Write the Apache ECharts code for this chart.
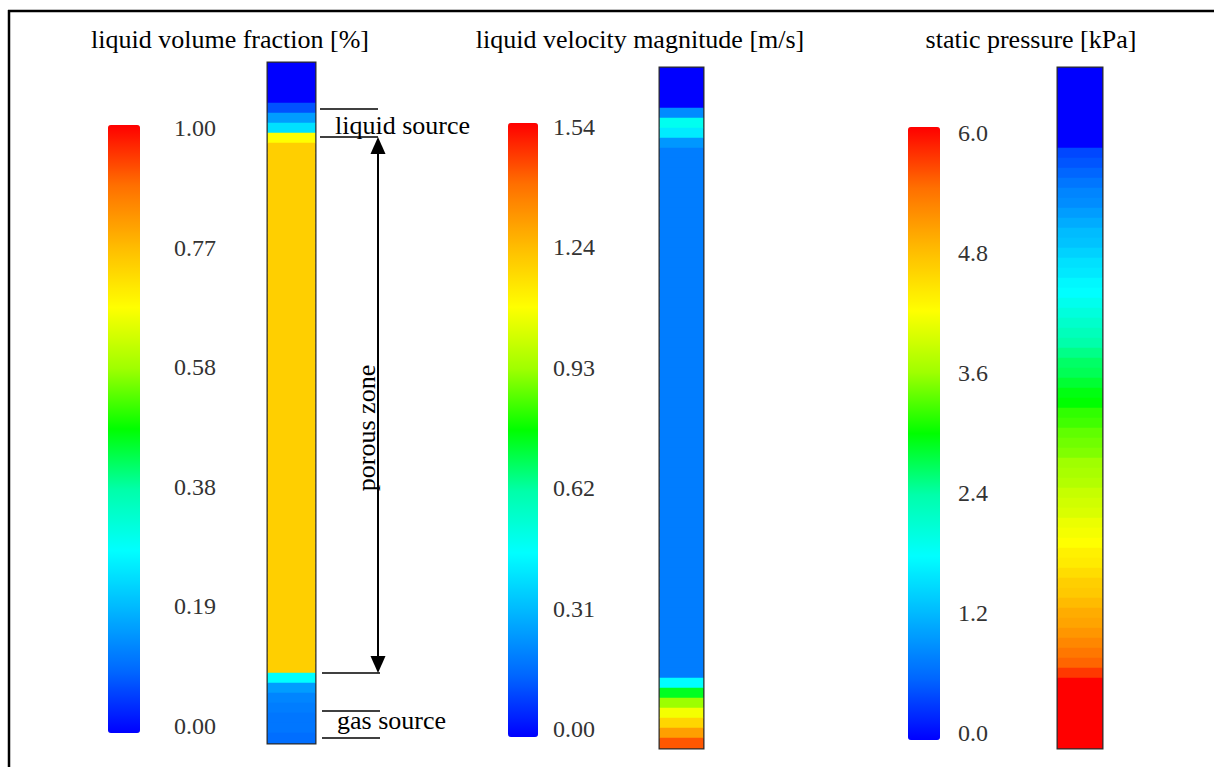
<!DOCTYPE html>
<html>
<head>
<meta charset="utf-8">
<title>liquid volume fraction / velocity / static pressure</title>
<script src="https://cdn.jsdelivr.net/npm/echarts@6/dist/echarts.min.js"></script>
<style>
  html, body { margin: 0; padding: 0; background: #fff; }
  #chart { width: 1214px; height: 767px; }
</style>
</head>
<body>
<div id="chart"></div>
<script>
// colorbar tick labels, bottom to top (as printed)
const fractionTicks = ['0.00', '0.19', '0.38', '0.58', '0.77', '1.00'];
const velocityTicks = ['0.00', '0.31', '0.62', '0.93', '1.24', '1.54'];
const pressureTicks = ['0.0', '1.2', '2.4', '3.6', '4.8', '6.0'];

// column profiles, top row first (68 rows each)
const fractionRows = [
  0, 0, 0, 0, 0.08, 0.17, 0.26, 0.70,
  0.77, 0.77, 0.77, 0.77, 0.77, 0.77, 0.77, 0.77, 0.77, 0.77,
  0.77, 0.77, 0.77, 0.77, 0.77, 0.77, 0.77, 0.77, 0.77, 0.77,
  0.77, 0.77, 0.77, 0.77, 0.77, 0.77, 0.77, 0.77, 0.77, 0.77,
  0.77, 0.77, 0.77, 0.77, 0.77, 0.77, 0.77, 0.77, 0.77, 0.77,
  0.77, 0.77, 0.77, 0.77, 0.77, 0.77, 0.77, 0.77, 0.77, 0.77,
  0.77, 0.77, 0.77,
  0.30, 0.17, 0.14, 0.13, 0.12, 0.12, 0.11
];
const velocityRows = [
  0, 0, 0, 0, 0.23, 0.49, 0.42, 0.25,
  0.20, 0.20, 0.20, 0.20, 0.20, 0.20, 0.20, 0.20, 0.20, 0.20,
  0.20, 0.20, 0.20, 0.20, 0.20, 0.20, 0.20, 0.20, 0.20, 0.20,
  0.20, 0.20, 0.20, 0.20, 0.20, 0.20, 0.20, 0.20, 0.20, 0.20,
  0.20, 0.20, 0.20, 0.20, 0.20, 0.20, 0.20, 0.20, 0.20, 0.20,
  0.20, 0.20, 0.20, 0.20, 0.20, 0.20, 0.20, 0.20, 0.20, 0.20,
  0.20, 0.20, 0.20,
  0.46, 0.74, 0.92, 1.06, 1.17, 1.29, 1.42
];
const pressureRows = [
  0, 0, 0, 0, 0, 0, 0, 0,
  0.42, 0.5, 0.6, 0.72, 0.84, 0.9, 1.02, 1.14, 1.26, 1.32,
  1.44, 1.56, 1.62, 1.74, 1.8, 1.92, 2.04, 2.16, 2.28, 2.4,
  2.52, 2.64, 2.7, 2.82, 2.94, 3.0, 3.18, 3.24, 3.36, 3.42,
  3.48, 3.6, 3.66, 3.72, 3.84, 3.9, 3.96, 4.08, 4.14, 4.2,
  4.32, 4.38, 4.5, 4.62, 4.68, 4.8, 4.92, 4.98, 5.1, 5.22,
  5.34, 5.46, 5.7,
  6.0, 6.0, 6.0, 6.0, 6.0, 6.0, 6.0
];

const rainbow = ['#0000ff', '#0066ff', '#00b4ff', '#00ffff', '#00ffaa', '#00ff00',
  '#a0ff00', '#ffff00', '#ffbb00', '#ff7000', '#ff0000'];
const serif = '"Liberation Serif", "Times New Roman", serif';

const chart = echarts.init(document.getElementById('chart'), null, { renderer: 'svg' });

// contour column: one category column, one row per cell (10px rows)
function colGrid(left, top, width, height) {
  return { left, top, width, height, show: true, borderColor: '#2b2b2b', borderWidth: 3 };
}
// grid only used to carry the colorbar tick labels
function tickGrid(left, top, height) {
  return { left, top, width: 15, height, show: false };
}
function colX(i) {
  return { gridIndex: i, type: 'category', data: ['c'], show: false };
}
function colY(i, rows) {
  return { gridIndex: i, type: 'category', inverse: true, data: rows.map((v, k) => k), show: false };
}
function tickX(i) {
  return { gridIndex: i, type: 'value', min: 0, max: 1, show: false };
}
function tickY(i, ticks) {
  return {
    gridIndex: i, type: 'value', position: 'right', min: 0, max: ticks.length - 1, interval: 1,
    axisLine: { show: false }, axisTick: { show: false }, splitLine: { show: false },
    axisLabel: {
      margin: 8, fontFamily: serif, fontSize: 24, color: '#333',
      formatter: (v) => ticks[v]
    }
  };
}
function heat(i, rows) {
  return {
    type: 'heatmap', xAxisIndex: i, yAxisIndex: i,
    data: rows.map((v, k) => [0, k, v]),
    itemStyle: { borderWidth: 0 },
    emphasis: { disabled: true }, silent: true
  };
}
function bar(idx, max, left, top, w, h) {
  return {
    type: 'continuous', seriesIndex: idx, min: 0, max: max, orient: 'vertical',
    left, top, itemWidth: w, itemHeight: h, padding: 0,
    calculable: false, hoverLink: false, inRange: { color: rainbow }
  };
}

const txt = (x, y, text, extra) => Object.assign({
  type: 'text', x, y, silent: true,
  style: { text, font: '26px ' + serif, fill: '#000', align: 'center', verticalAlign: 'middle' }
}, extra || {});
const ln = (x1, y1, x2, y2, w) => ({
  type: 'line', silent: true, shape: { x1, y1, x2, y2 },
  style: { stroke: '#000', lineWidth: w || 1.5 }
});

const option = {
  animation: false,
  backgroundColor: '#fff',
  grid: [
    colGrid(268, 63, 47, 680),
    colGrid(660, 68, 43, 680),
    colGrid(1058, 68, 44, 680),
    tickGrid(151, 128, 598),
    tickGrid(530, 127, 602),
    tickGrid(935, 133, 600)
  ],
  xAxis: [colX(0), colX(1), colX(2), tickX(3), tickX(4), tickX(5)],
  yAxis: [
    colY(0, fractionRows), colY(1, velocityRows), colY(2, pressureRows),
    tickY(3, fractionTicks), tickY(4, velocityTicks), tickY(5, pressureTicks)
  ],
  visualMap: [
    bar(0, 1.0, 108, 125, 32, 608),
    bar(1, 1.54, 508, 123, 30, 614),
    bar(2, 6.0, 908, 127, 32, 613)
  ],
  series: [heat(0, fractionRows), heat(1, velocityRows), heat(2, pressureRows)],
  graphic: [
    // frame
    ln(8, 11, 1214, 11, 2.5),
    ln(9, 10, 9, 767, 2.5),
    // titles
    txt(230, 39, 'liquid volume fraction [%]'),
    txt(640, 39, 'liquid velocity magnitude [m/s]'),
    txt(1031, 39, 'static pressure [kPa]'),
    // liquid source
    ln(320, 109, 378, 109),
    ln(320, 137, 378, 137),
    txt(335, 125, 'liquid source', { style: { text: 'liquid source', font: '26px ' + serif, fill: '#000', align: 'left', verticalAlign: 'middle' } }),
    // porous zone arrow
    ln(378, 150, 378, 660, 2),
    { type: 'polygon', silent: true, shape: { points: [[378, 137], [370.5, 154], [385.5, 154]] }, style: { fill: '#000' } },
    { type: 'polygon', silent: true, shape: { points: [[378, 673], [370.5, 656], [385.5, 656]] }, style: { fill: '#000' } },
    ln(322, 673, 380, 673),
    txt(366, 428, 'porous zone', { rotation: Math.PI / 2 }),
    // gas source
    ln(322, 711, 380, 711),
    ln(322, 738, 380, 738),
    txt(337, 720, 'gas source', { style: { text: 'gas source', font: '26px ' + serif, fill: '#000', align: 'left', verticalAlign: 'middle' } })
  ]
};

chart.setOption(option);
</script>
</body>
</html>
